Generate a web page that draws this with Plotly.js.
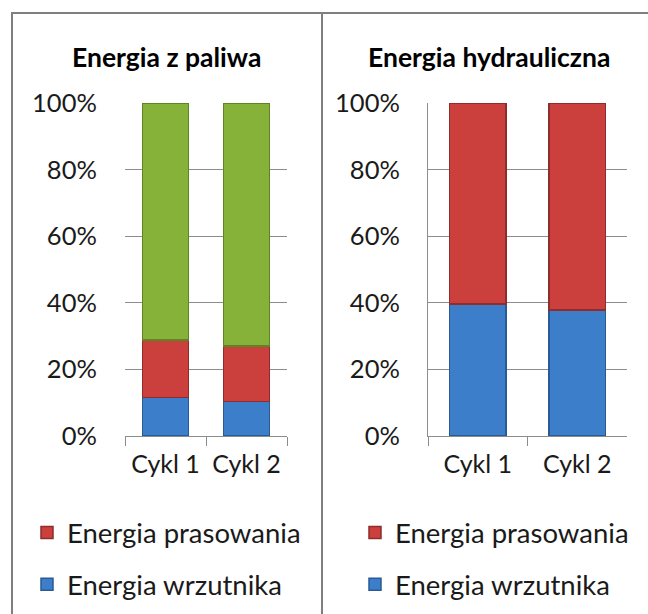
<!DOCTYPE html>
<html>
<head>
<meta charset="utf-8">
<script src="https://cdn.plot.ly/plotly-3.0.1.min.js"></script>
<style>html,body{margin:0;padding:0;background:#fff;}#chart{width:648px;height:614px;}</style>
</head>
<body>
<div id="chart"></div>
<script>
const categories = ['Cykl 1', 'Cykl 2'];
const tickValues = [0, 20, 40, 60, 80, 100];
const tickLabels = ['0%', '20%', '40%', '60%', '80%', '100%'];
// Energia z paliwa (percent shares)
const paliwaWrzutnika = [11.6, 10.3];
const paliwaPrasowania = [17.2, 16.8];
const paliwaPozostala = [71.2, 72.9];
// Energia hydrauliczna (percent shares)
const hydrWrzutnika = [39.6, 37.8];
const hydrPrasowania = [60.4, 62.2];

const FONT = 'Lato, "Open Sans", sans-serif';
const BLUE = '#3d7ecb', RED = '#cb3f3d', GREEN = '#86b23a';
const BLUE_L = '#2a5a96', RED_L = '#8e2d2b', GREEN_L = '#5f8426';

function bar(x, y, name, color, line, xa, ya, legend, show, rank) {
  return {
    type: 'bar', x: x, y: y, name: name, xaxis: xa, yaxis: ya,
    marker: {color: color, line: {color: line, width: 1.5}},
    legend: legend, showlegend: show, legendgroup: legend + name, legendrank: rank,
    hoverinfo: 'skip'
  };
}

const data = [
  bar(categories, paliwaWrzutnika, 'Energia wrzutnika', BLUE, BLUE_L, 'x', 'y', 'legend', true, 2),
  bar(categories, paliwaPrasowania, 'Energia prasowania', RED, RED_L, 'x', 'y', 'legend', true, 1),
  bar(categories, paliwaPozostala, 'Pozostała energia', GREEN, GREEN_L, 'x', 'y', 'legend', false, 3),
  bar(categories, hydrWrzutnika, 'Energia wrzutnika', BLUE, BLUE_L, 'x2', 'y2', 'legend2', true, 2),
  bar(categories, hydrPrasowania, 'Energia prasowania', RED, RED_L, 'x2', 'y2', 'legend2', true, 1)
];

const W = 648, H = 614;
const px = v => v / W, py = v => (H - v) / H;

const xCommon = {
  type: 'category', showgrid: false, showline: true, linecolor: '#8c8c8c', linewidth: 1,
  ticks: 'outside', tickson: 'boundaries', ticklen: 9, tickcolor: '#8c8c8c',
  tickfont: {family: FONT, size: 25, color: '#1a1a1a'}, ticklabelstandoff: 6,
  fixedrange: true
};
const yCommon = {
  range: [0, 100], tickvals: tickValues, ticktext: tickLabels,
  showgrid: true, gridcolor: '#8c8c8c', gridwidth: 1, zeroline: false,
  ticks: 'outside', ticklen: 22, tickcolor: 'rgba(0,0,0,0)',
  tickfont: {family: FONT, size: 25.5, color: '#1a1a1a'}, fixedrange: true
};

const legendCommon = {
  xanchor: 'left', yanchor: 'top',
  font: {family: FONT, size: 27.5, color: '#1a1a1a'},
  traceorder: 'grouped', tracegroupgap: 13, bgcolor: 'rgba(0,0,0,0)'
};

const layout = {
  width: W, height: H,
  margin: {l: 0, r: 0, t: 0, b: 0},
  paper_bgcolor: '#ffffff', plot_bgcolor: 'rgba(0,0,0,0)',
  barmode: 'stack', bargap: 0.43,
  font: {family: FONT, color: '#1a1a1a'},
  xaxis: Object.assign({}, xCommon, {domain: [px(125), px(287)], anchor: 'y'}),
  yaxis: Object.assign({}, yCommon, {domain: [py(436), py(103)], anchor: 'x', showline: false}),
  xaxis2: Object.assign({}, xCommon, {domain: [px(428), px(627)], anchor: 'y2'}),
  yaxis2: Object.assign({}, yCommon, {domain: [py(436), py(103)], anchor: 'x2', showline: true, linecolor: '#8c8c8c', linewidth: 1}),
  legend: Object.assign({}, legendCommon, {x: px(27), y: py(508)}),
  legend2: Object.assign({}, legendCommon, {x: px(355), y: py(508)}),
  annotations: [
    {text: '<b>Energia z paliwa</b>', xref: 'paper', yref: 'paper', x: px(166), y: py(57),
     xanchor: 'center', yanchor: 'middle', showarrow: false, font: {family: FONT, size: 26.5, color: '#000'}},
    {text: '<b>Energia hydrauliczna</b>', xref: 'paper', yref: 'paper', x: px(489), y: py(57),
     xanchor: 'center', yanchor: 'middle', showarrow: false, font: {family: FONT, size: 26.5, color: '#000'}}
  ],
  shapes: [
    {type: 'rect', xref: 'paper', yref: 'paper', x0: px(12), x1: px(322), y0: py(640), y1: py(13),
     line: {color: '#7f7f7f', width: 2}, fillcolor: 'rgba(0,0,0,0)', layer: 'below'},
    {type: 'rect', xref: 'paper', yref: 'paper', x0: px(322), x1: px(680), y0: py(640), y1: py(13),
     line: {color: '#7f7f7f', width: 2}, fillcolor: 'rgba(0,0,0,0)', layer: 'below'}
  ]
};

Plotly.newPlot('chart', data, layout, {displayModeBar: false, staticPlot: true});
</script>
</body>
</html>
